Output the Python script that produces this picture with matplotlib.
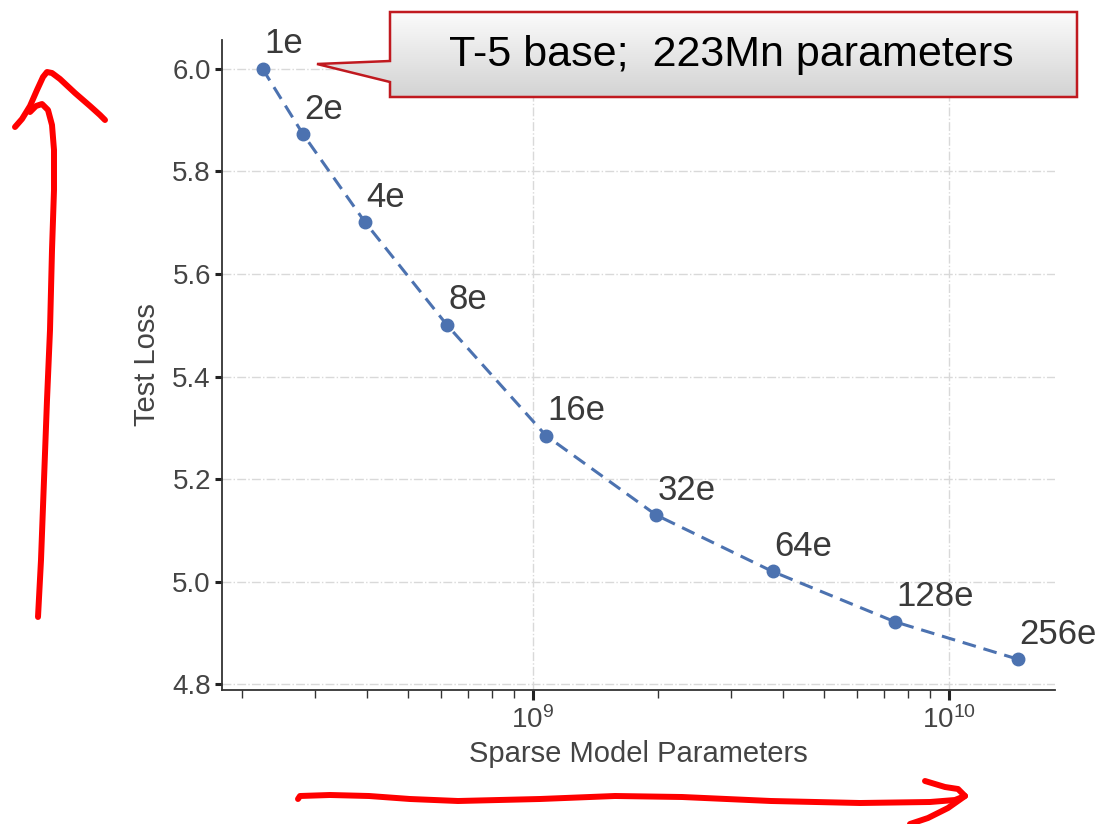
import matplotlib
matplotlib.use('Agg')
import matplotlib.pyplot as plt
import numpy as np
from matplotlib.patches import Polygon
from matplotlib.ticker import LogLocator, NullFormatter

# data ###########################################
experts = ['1e', '2e', '4e', '8e', '16e', '32e', '64e', '128e', '256e']
params = [2.24e8, 2.80e8, 3.95e8, 6.21e8, 1.075e9, 1.98e9, 3.77e9, 7.42e9, 1.466e10]
loss = [6.0, 5.873, 5.701, 5.501, 5.285, 5.130, 5.020, 4.922, 4.849]
yticks = [4.8, 5.0, 5.2, 5.4, 5.6, 5.8, 6.0]
callout_text = 'T-5 base;  223Mn parameters'

plt.rcParams['font.family'] = ['Liberation Sans', 'DejaVu Sans']
plt.rcParams['mathtext.fontset'] = 'custom'
plt.rcParams['mathtext.rm'] = 'Liberation Sans'
plt.rcParams['mathtext.it'] = 'Liberation Sans:italic'

fig = plt.figure(figsize=(11.07, 8.24), dpi=100)
ax = fig.add_axes([222/1107, 1-690/824, (1055-222)/1107, (690-40)/824])

blue = '#4c72b0'
ax.plot(params, loss, '--', color=blue, lw=2.2, dashes=(4.5, 2.6), zorder=3)
ax.plot(params, loss, 'o', color=blue, ms=9, zorder=4)
for lab, x, y in zip(experts, params, loss):
    ax.annotate(lab, (x, y), xytext=(1, 11), textcoords='offset points',
                ha='left', va='baseline', fontsize=25, color='#3a3a3a', zorder=5)

ax.set_xscale('log')
ax.set_xlim(1.79e8, 1.80e10)
ax.set_ylim(4.789, 6.056)
ax.set_yticks(yticks)
ax.set_yticklabels(['%.1f' % v for v in yticks])
ax.xaxis.set_major_locator(LogLocator(base=10, numticks=10))
ax.xaxis.set_minor_locator(LogLocator(base=10, subs=np.arange(2, 10), numticks=20))
ax.xaxis.set_minor_formatter(NullFormatter())

# grid dash-dot light gray
ax.grid(True, which='major', color='#d9d9d9', lw=1.0, linestyle='-.', zorder=0)
ax.set_axisbelow(True)

for s in ['top', 'right']:
    ax.spines[s].set_visible(False)
for s in ['left', 'bottom']:
    ax.spines[s].set_color('#333333')
    ax.spines[s].set_linewidth(1.3)

ax.tick_params(axis='y', length=5, width=2.2, color='#222222', labelsize=20,
               labelcolor='#444444', pad=3)
ax.tick_params(axis='x', which='major', length=7, width=2.2, color='#222222',
               labelsize=20, labelcolor='#444444', pad=5)
ax.tick_params(axis='x', which='minor', length=6, width=1.0, color='#333333')

ax.set_xlabel('Sparse Model Parameters', fontsize=21, color='#444444', labelpad=4)
ax.set_ylabel('Test Loss', fontsize=21, color='#444444', labelpad=8)

# overlay in figure pixels for the callout and the red arrows ####
ov = fig.add_axes([0, 0, 1, 1], zorder=10)
ov.set_xlim(0, 1107)
ov.set_ylim(824, 0)
ov.axis('off')
ov.patch.set_visible(False)

box = [(390, 12), (1077, 12), (1077, 97), (390, 97), (390, 82), (317, 64), (390, 61)]
poly = Polygon(box, closed=True, facecolor='none', edgecolor='#c0191f', lw=1.8, zorder=12)
grad = np.linspace(0, 1, 100).reshape(-1, 1)
im = ov.imshow(grad, cmap=matplotlib.colors.LinearSegmentedColormap.from_list('g', ['#fbfbfb', '#d3d3d3']),
               extent=[317, 1077, 97, 12], aspect='auto', zorder=11)
ov.add_patch(poly)
im.set_clip_path(poly)
ov.text(731, 55, callout_text, fontsize=31, color='black', ha='center', va='center', zorder=13)

# hand drawn arrows
red = '#ff0000'
stem_x = [38, 41, 44, 47, 50, 52, 54, 54, 52, 48, 42, 36, 30]
stem_y = [617, 560, 480, 400, 330, 250, 190, 150, 125, 110, 104, 106, 112]
ov.plot(stem_x, stem_y, color=red, lw=4.3, solid_capstyle='round', solid_joinstyle='round')
head_x = [15, 22, 30, 37, 43, 47, 52, 60, 75, 90, 100, 105]
head_y = [127, 119, 106, 90, 77, 72, 73, 79, 93, 106, 115, 120]
ov.plot(head_x, head_y, color=red, lw=4.3, solid_capstyle='round', solid_joinstyle='round')

hx = [298, 300, 330, 369, 410, 458, 540, 615, 682, 771, 860, 930, 955, 965]
hy = [799, 796, 795, 796, 799, 801, 799, 796, 797, 801, 803, 802, 800, 796]
ov.plot(hx, hy, color=red, lw=4.3, solid_capstyle='round', solid_joinstyle='round')
ov.plot([925, 945, 958, 965, 948, 928, 910], [781, 787, 789, 796, 808, 818, 824],
        color=red, lw=4.3, solid_capstyle='round', solid_joinstyle='round')

plt.savefig('out.png', dpi=100)
